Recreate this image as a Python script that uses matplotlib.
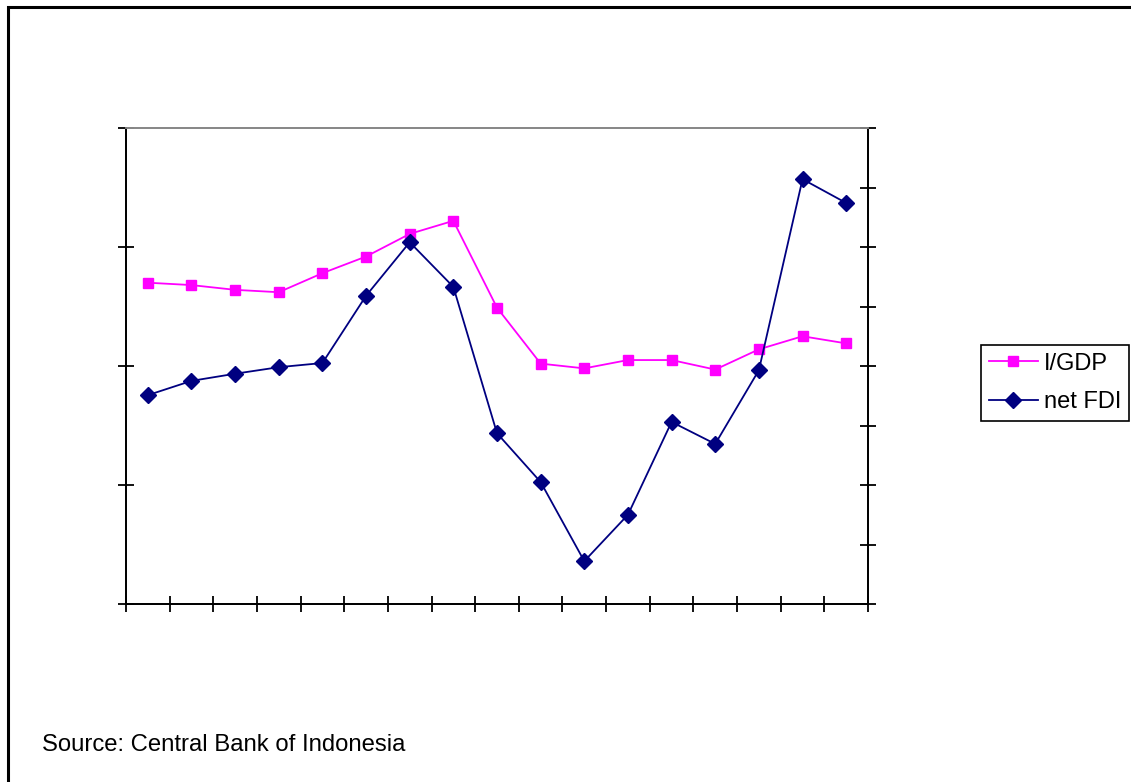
import matplotlib
matplotlib.use('Agg')
import matplotlib.pyplot as plt
from matplotlib.patches import Rectangle

plt.rcParams['font.family'] = ['Liberation Sans', 'DejaVu Sans']

# investment / GDP (left axis) and net FDI (right axis), one value per year
i_gdp = [27.0, 26.8, 26.4, 26.2, 27.8, 29.2, 31.1, 32.2, 24.9, 20.2,
         19.8, 20.5, 20.5, 19.7, 21.4, 22.5, 21.9]
net_fdi = [-0.49, -0.25, -0.13, -0.02, 0.05, 1.18, 2.08, 1.33, -1.13, -1.95,
           -3.28, -2.50, -0.94, -1.31, -0.07, 3.14, 2.74]

n = len(i_gdp)
xs = [i + 0.5 for i in range(n)]

W, H = 1131, 782
fig = plt.figure(figsize=(W/100, H/100), dpi=100)
ax = fig.add_axes([126/W, 1 - 604/H, 742/W, 476/H])
ax2 = ax.twinx()

l1, = ax.plot(xs, i_gdp, color='#FF00FF', marker='s', markersize=7.5, lw=1.3,
              label='I/GDP', zorder=3)
l2, = ax2.plot(xs, net_fdi, color='#000080', marker='D', markersize=8, lw=1.3,
               label='net FDI', zorder=3)

ax.set_xlim(0, n)
ax.set_ylim(0, 40)
ax2.set_ylim(-4, 4)
ax.set_xticks(range(n + 1))
ax.set_yticks([0, 10, 20, 30, 40])
ax2.set_yticks(range(-4, 5))

for a in (ax, ax2):
    a.tick_params(direction='inout', length=12, width=1.3, labelleft=False,
                  labelright=False, labelbottom=False)
    for s in a.spines.values():
        s.set_linewidth(1.3)
    a.spines['top'].set_color('#888888')
ax.tick_params(axis='y', right=False)
ax2.tick_params(axis='y', left=False)

leg = fig.legend([l1, l2], ['I/GDP', 'net FDI'], loc='upper left',
                 bbox_to_anchor=(981/W, 1 - 345/H), fontsize=17, fancybox=False,
                 edgecolor='black', framealpha=1, handlelength=2.1,
                 handletextpad=0.25, borderpad=0.32, labelspacing=0.7,
                 borderaxespad=0)
leg.get_frame().set_linewidth(1.2)

fig.text(42/W, 1 - 745/H, 'Source: Central Bank of Indonesia', fontsize=17.2,
         va='center', ha='left')

# outer frame around the whole chart
fig.patches.append(Rectangle((7.5/W, -0.05), 1.2, 1 - 6.5/H + 0.05,
                             transform=fig.transFigure, fill=False,
                             edgecolor='black', lw=2.2))

fig.savefig('out.png', dpi=100)
